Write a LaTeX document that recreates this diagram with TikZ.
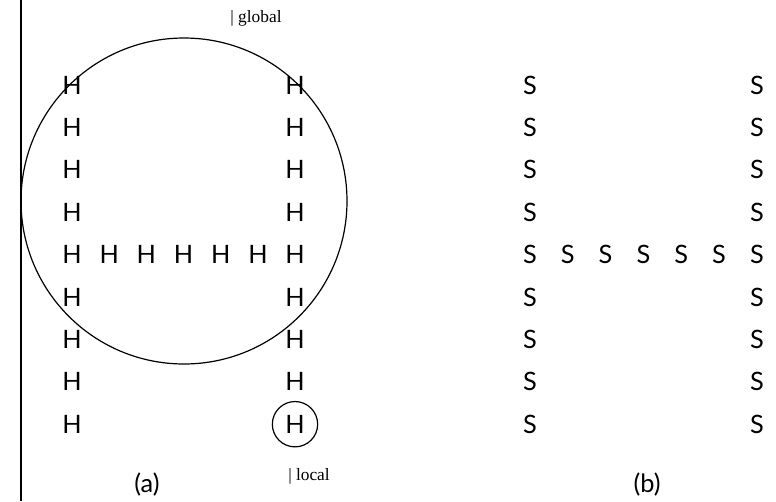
\documentclass[tikz,border=0pt]{standalone}
\usepackage{fontspec}
\newfontfamily\letterfont{Lato}
\newfontfamily\tagfont{Liberation Serif}
\usetikzlibrary{positioning}

\begin{document}
\begin{tikzpicture}[
    x=0.75pt, y=-0.75pt,
    atom/.style={inner sep=0pt, font=\letterfont\fontsize{19}{20}\selectfont},
    tag/.style={inner sep=0pt, font=\tagfont\fontsize{13}{15}\selectfont},
    sub/.style={inner sep=0pt, font=\letterfont\fontsize{19}{20}\selectfont},
    ring/.style={draw, circle, line width=0.9pt, inner sep=0pt}
]
    \useasboundingbox (0,0) rectangle (776,501);

    % left frame line
    \draw[line width=0.8pt] (21,0) -- (21,501);

    % (a) letter H made of H atoms
    \foreach \i in {0,...,8} {
        \node[atom] (hl\i) at (72,85+42.4*\i) {H};
        \node[atom] (hr\i) at (295,85+42.4*\i) {H};
    }
    \foreach \k in {1,...,5} {
        \node[atom] (hm\k) at (72+37.2*\k,254.6) {H};
    }

    % global neighbourhood
    \node[ring, minimum size=244.5pt] (global) at (184,201) {};
    \node[tag] (globaltag) at (256,18) {| global};

    % local neighbourhood
    \node[ring, minimum size=34pt] (local) at (hr8) {};
    \node[tag] (localtag) at (309,476) {| local};

    % (b) letter H made of S atoms
    \foreach \i in {0,...,8} {
        \node[atom] (sl\i) at (530,85+42.4*\i) {S};
        \node[atom] (sr\i) at (757,85+42.4*\i) {S};
    }
    \foreach \k in {1,...,5} {
        \node[atom] (sm\k) at (530+37.8*\k,254.6) {S};
    }

    % captions
    \node[sub] (capa) at (147,485) {(a)};
    \node[sub] (capb) at (647,485) {(b)};
\end{tikzpicture}
\end{document}
